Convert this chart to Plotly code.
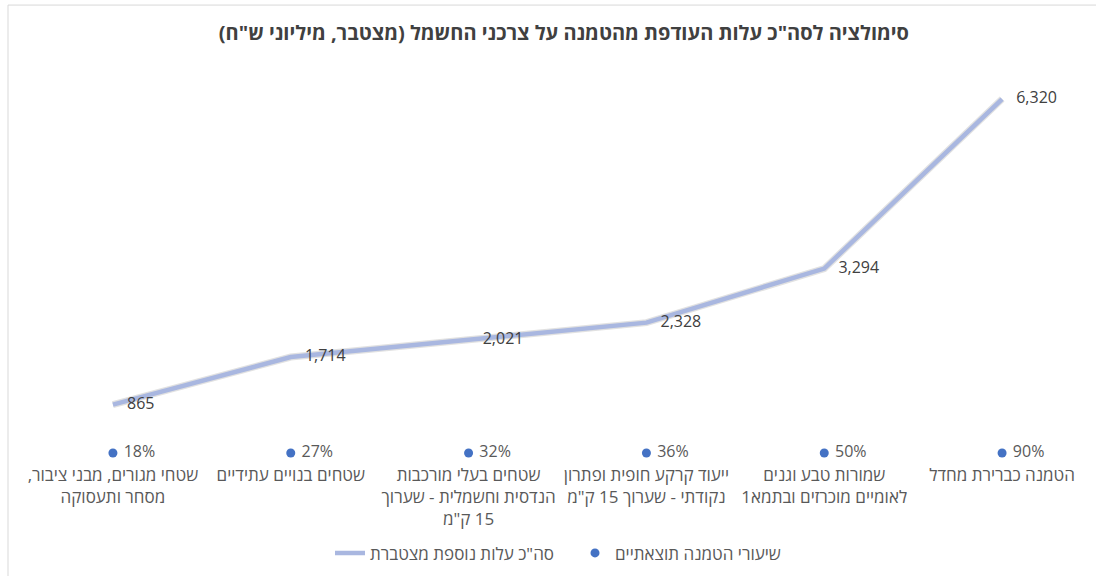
import plotly.graph_objects as go

categories = [
    "שטחי מגורים, מבני ציבור,<br>מסחר ותעסוקה",
    "שטחים בנויים עתידיים",
    "שטחים בעלי מורכבות<br>הנדסית וחשמלית - שערוך<br>15 ק\"מ",
    "ייעוד קרקע חופית ופתרון<br>נקודתי - שערוך 15 ק\"מ",
    "שמורות טבע וגנים<br>לאומיים מוכרזים ובתמא1",
    "הטמנה כברירת מחדל",
]
cumulative_cost = [865, 1714, 2021, 2328, 3294, 6320]
burial_rates = [0.18, 0.27, 0.32, 0.36, 0.50, 0.90]

title_text = "סימולציה לסה\"כ עלות העודפת מהטמנה על צרכני החשמל (מצטבר, מיליוני ש\"ח)"
line_name = "סה\"כ עלות נוספת מצטברת"
dots_name = "שיעורי הטמנה תוצאתיים"

RLM = "\u200f"


def rtl(s):
    return "<br>".join(RLM + part + RLM for part in s.split("<br>"))


FONT = "Open Sans, Liberation Sans, DejaVu Sans, sans-serif"
TXT = "#595959"

fig = go.Figure()

# line series (with a faint shadow underneath)
fig.add_trace(go.Scatter(
    x=categories, y=cumulative_cost, mode="lines",
    line=dict(color="rgba(120,120,120,0.22)", width=7),
    hoverinfo="skip", showlegend=False,
))
fig.add_trace(go.Scatter(
    x=categories, y=cumulative_cost, mode="lines",
    name=rtl(line_name),
    line=dict(color="#A9B7E0", width=4.5),
))
# value labels of the line series
fig.add_trace(go.Scatter(
    x=categories, y=cumulative_cost, mode="markers+text",
    marker=dict(size=21, color="rgba(0,0,0,0)"),
    text=[f"{v:,}" for v in cumulative_cost],
    textposition="middle right",
    textfont=dict(size=16, color="#404040", family=FONT),
    cliponaxis=False, showlegend=False, hoverinfo="skip",
))
# burial-rate series
fig.add_trace(go.Scatter(
    x=categories, y=burial_rates, mode="markers+text",
    name=rtl(dots_name),
    marker=dict(color="#4472C4", size=9),
    text=[f" {round(v * 100)}%" for v in burial_rates],
    textposition="middle right",
    textfont=dict(size=16, color=TXT, family=FONT),
    cliponaxis=False,
))

fig.update_layout(
    width=1096, height=576,
    margin=dict(l=24, r=5, t=61, b=122.5, autoexpand=False),
    paper_bgcolor="white", plot_bgcolor="white",
    font=dict(family=FONT, color=TXT, size=16),
    title=dict(
        text="<b>" + rtl(title_text) + "</b>",
        x=0.506, xref="paper", xanchor="center",
        y=1 - 33 / 576, yref="container", yanchor="middle",
        font=dict(size=20, color="#404040", family=FONT),
    ),
    xaxis=dict(
        type="category", range=[-0.5, 5.5], automargin=False,
        tickvals=categories, ticktext=[rtl(c) for c in categories],
        showgrid=False, zeroline=False, showline=False, ticks="",
        tickfont=dict(size=17, color=TXT, family=FONT),
        ticklabelstandoff=10,
    ),
    yaxis=dict(
        range=[0, 7000], visible=False, showgrid=False, zeroline=False,
        automargin=False,
    ),
    legend=dict(
        orientation="h", x=(330 - 24) / 1067, xanchor="left",
        y=(453.5 - 554) / 392.5, yanchor="middle",
        font=dict(size=17, color=TXT, family=FONT),
        itemwidth=30, entrywidth=200,
    ),
    shapes=[dict(
        type="rect", xref="paper", yref="paper",
        x0=(8 - 24) / 1067, x1=1.03,
        y0=(453.5 - 5) / 392.5, y1=-0.45,
        line=dict(color="#D9D9D9", width=1), fillcolor="rgba(0,0,0,0)",
        layer="below",
    )],
)

fig.write_html(
    "out.html",
    config={"displayModeBar": False},
    post_script="document.body.style.margin='0';document.body.style.padding='0';",
)
